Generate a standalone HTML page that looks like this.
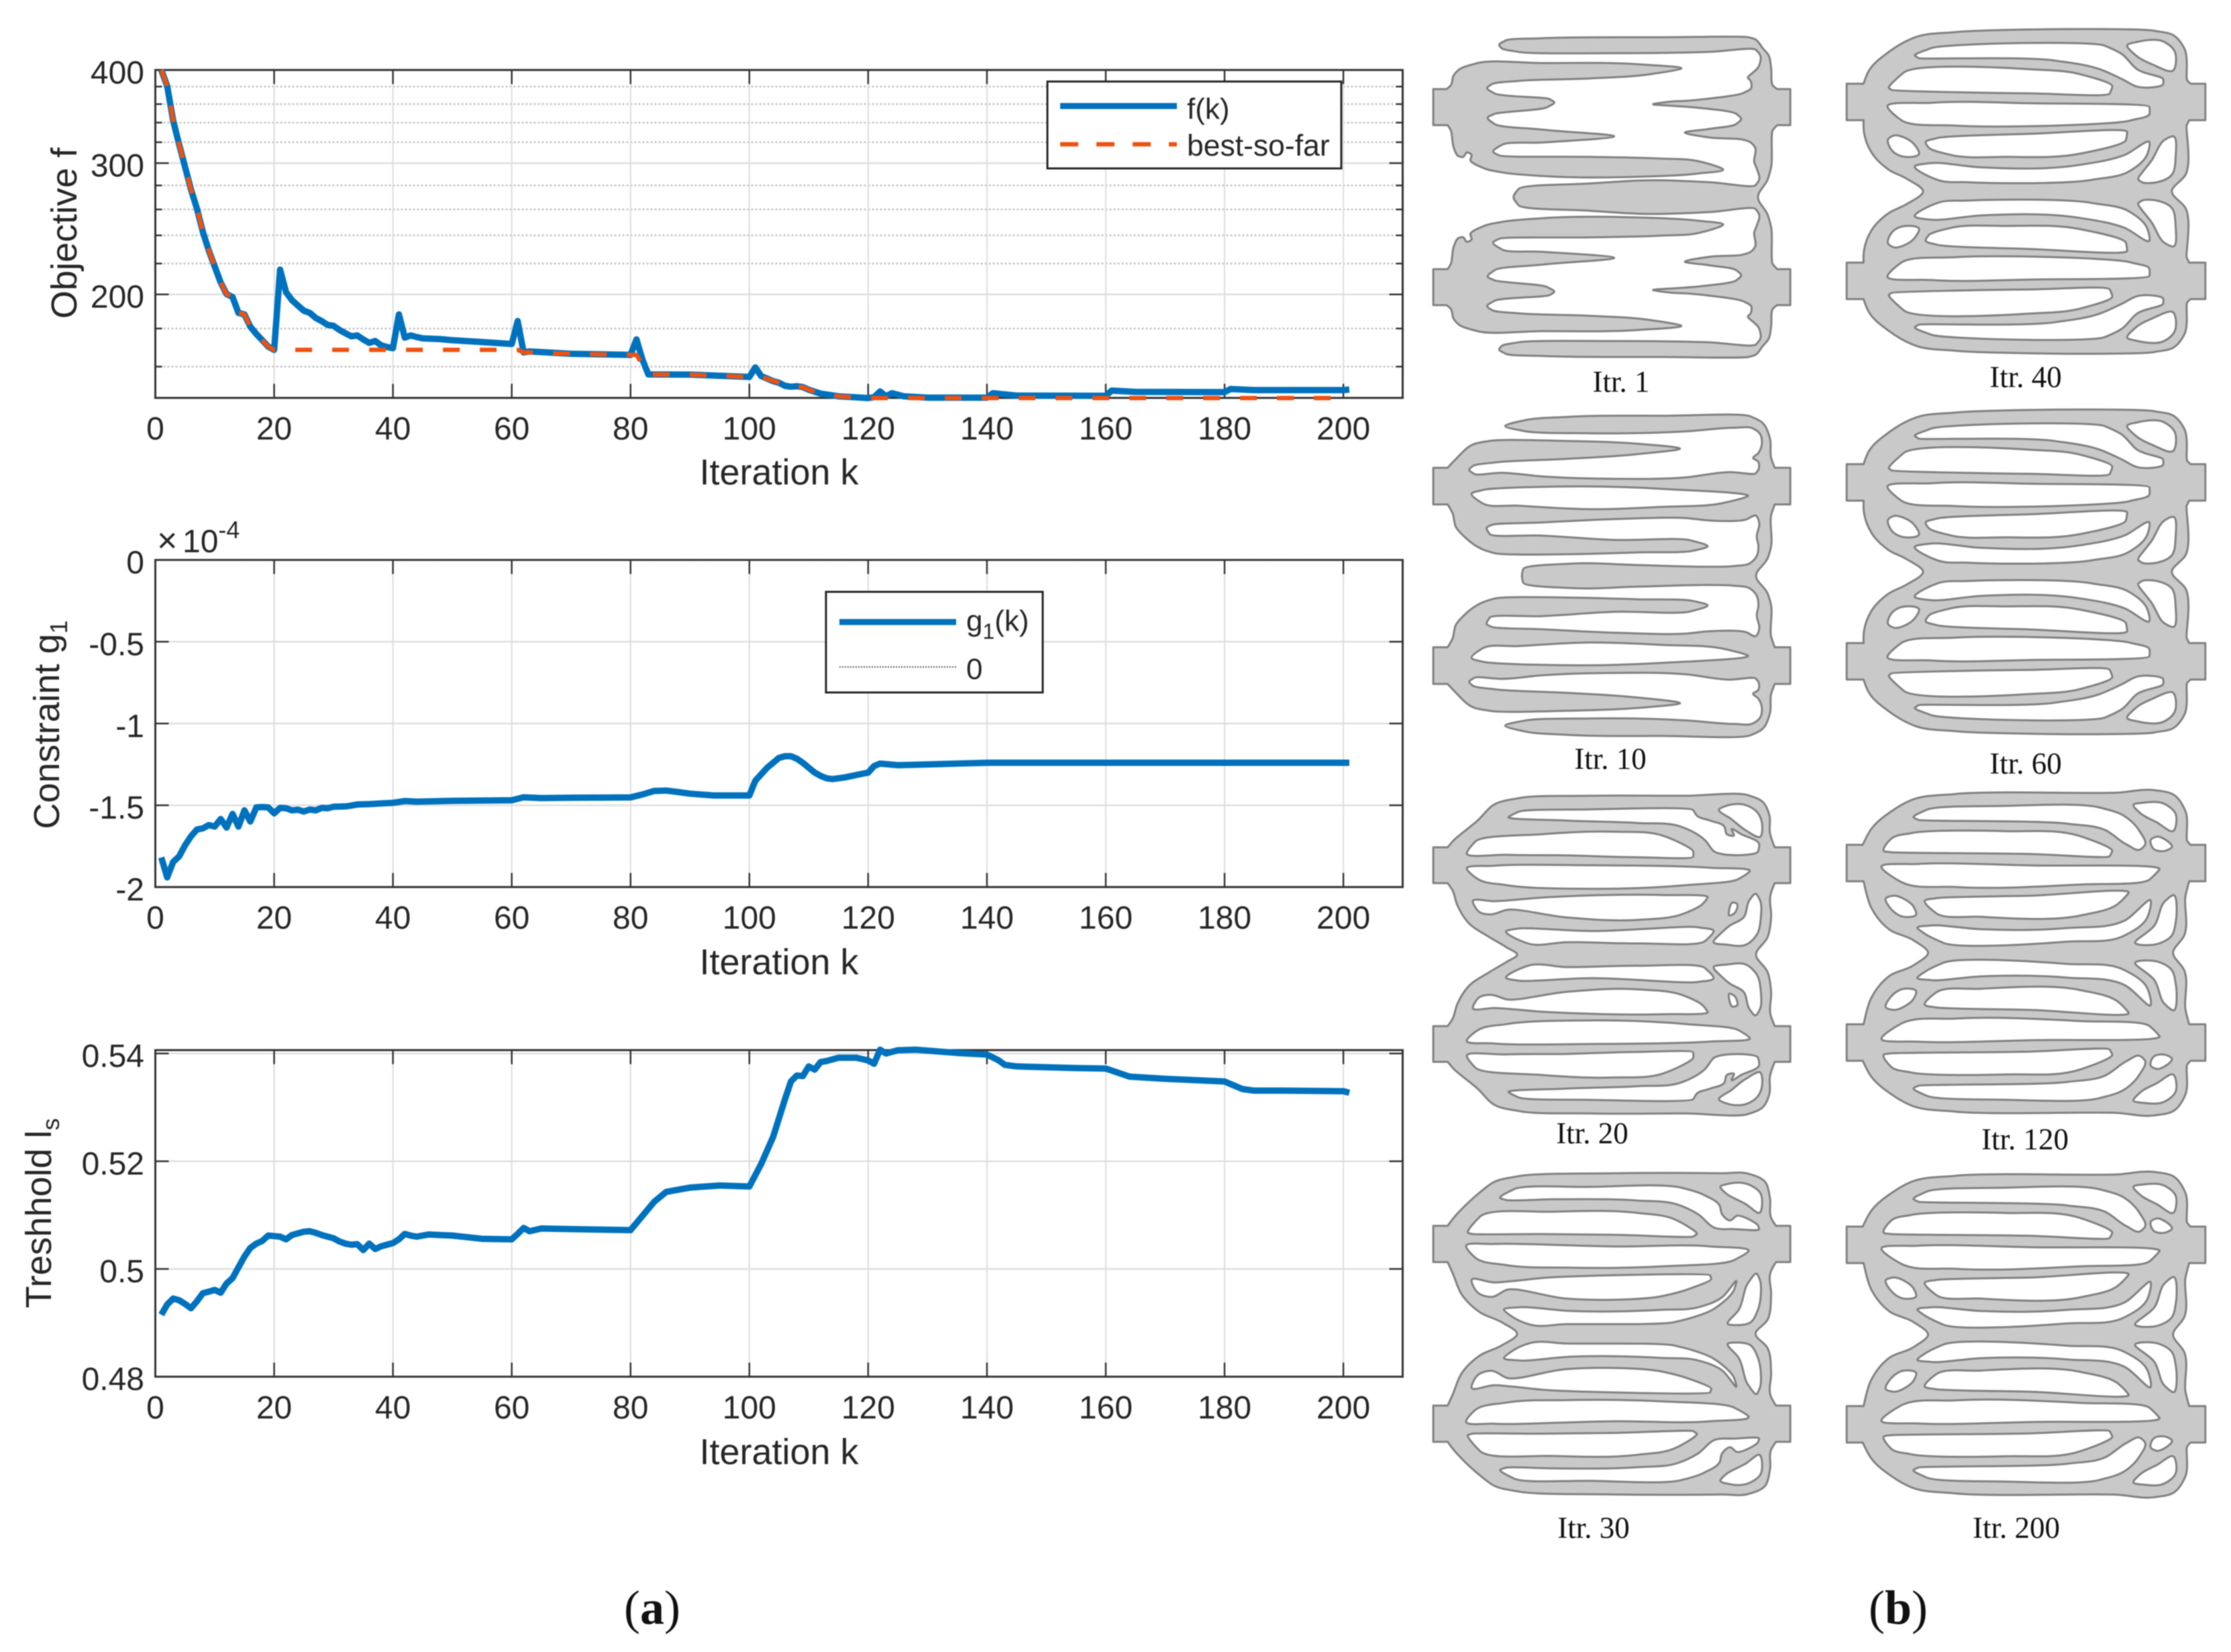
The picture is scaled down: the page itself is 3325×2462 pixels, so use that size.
<!DOCTYPE html>
<html lang="en">
<head>
<meta charset="utf-8">
<title>Topology optimisation convergence</title>
<style>
html,body{margin:0;padding:0;background:#fff;}
svg{display:block;filter:blur(0.7px);}
text{font-family:"Liberation Sans",sans-serif;fill:#262626;}
.serif{font-family:"Liberation Serif",serif;fill:#111;}
</style>
</head>
<body>
<svg id="fig" xmlns="http://www.w3.org/2000/svg" width="3325" height="2462" viewBox="0 0 3325 2462">
  <rect width="3325" height="2462" fill="#fff"/>
  <g id="plots"></g>
  <g id="panels"></g>

  <text x="114" y="347.5" font-size="54" text-anchor="middle" transform="rotate(-90 114 347.5)">Objective f</text>
  <text x="88" y="1080" font-size="54" text-anchor="middle" transform="rotate(-90 88 1080)">Constraint g<tspan font-size="36" dy="12">1</tspan></text>
  <text x="76" y="1808" font-size="54" text-anchor="middle" transform="rotate(-90 76 1808)">Treshhold l<tspan font-size="36" dy="12">s</tspan></text>

  <text x="1161" y="722" font-size="54" text-anchor="middle">Iteration k</text>
  <text x="1161" y="1452" font-size="54" text-anchor="middle">Iteration k</text>
  <text x="1161" y="2182" font-size="54" text-anchor="middle">Iteration k</text>

  <text x="234" y="823" font-size="52">×<tspan x="272" font-size="48">10</tspan><tspan font-size="36" dy="-21">-4</tspan></text>

  <text class="serif" x="2416" y="584" font-size="45" text-anchor="middle">Itr. 1</text>
  <text class="serif" x="2400" y="1146" font-size="45" text-anchor="middle">Itr. 10</text>
  <text class="serif" x="2373" y="1704" font-size="45" text-anchor="middle">Itr. 20</text>
  <text class="serif" x="2375" y="2292" font-size="45" text-anchor="middle">Itr. 30</text>
  <text class="serif" x="3019" y="577" font-size="45" text-anchor="middle">Itr. 40</text>
  <text class="serif" x="3019" y="1153" font-size="45" text-anchor="middle">Itr. 60</text>
  <text class="serif" x="3018" y="1713" font-size="45" text-anchor="middle">Itr. 120</text>
  <text class="serif" x="3005" y="2292" font-size="45" text-anchor="middle">Itr. 200</text>

  <text class="serif" x="972" y="2420" font-size="72" text-anchor="middle">(<tspan font-weight="bold">a</tspan>)</text>
  <text class="serif" x="2829" y="2420" font-size="72" text-anchor="middle">(<tspan font-weight="bold">b</tspan>)</text>
</svg>

<script>
/* ---------- chart data ---------- */
const xTicks = [0,20,40,60,80,100,120,140,160,180,200];

const objTicks = [200,300,400];
const objMinorTicks = [160,180,220,240,260,280,320,340,360,380];
const objIter = [1,2,3,4,5,6,7,8,9,10,11,12,13,14,15,16,17,18,19,20,21,22,23,24,25,26,27,28,29,30,31,32,33,34,35,36,37,38,39,40,41,42,43,44,45,48,50,55,60,61,62,63,70,80,81,82,83,90,100,101,102,103,104,105,106,107,108,109,110,112,115,120,121,122,123,124,126,130,140,141,145,160,161,165,180,181,185,200,201];
const objValues = [400,380.6,342,318,296.5,276.6,260.7,242.7,229,218,207.5,200.2,198.4,188.9,188,181,177,173.6,170.2,168.5,215.9,201.4,196.5,193.2,190.2,188.9,186,184.2,182,181.5,179.2,177.4,175.7,176.2,174,172.2,173.2,170.9,170,169.4,188,175,176.2,175.3,174.6,174.2,173.6,172.6,171.6,184.2,167.2,167.7,166.5,165.9,174,163.6,156.2,156.1,155,159.6,155.4,154.2,153,152.2,150.8,150.4,150.6,150.2,149,147.2,146,145.2,145.6,148.2,146,147.4,146,145.4,145.4,147.4,146.3,146.2,148.6,148,147.9,149.3,148.8,148.8,149.1];

const bestIter = [1,2,3,4,5,6,7,8,9,10,11,12,13,14,15,16,17,18,19,20,61,62,63,70,80,81,83,90,100,102,105,107,109,110,112,115,120,201];
const bestValues = [400,380.6,342,318,296.5,276.6,260.7,242.7,229,218,207.5,200.2,198.4,188.9,188,181,177,173.6,170.2,168.5,168.5,167.2,167.2,166.5,165.9,165.9,156.2,156.1,155,155,152.2,150.2,150.2,149,147.2,146,145.2,145.2];

const conTicks = [0,-0.5,-1,-1.5,-2];
const conTickLabels = ['0','-0.5','-1','-1.5','-2'];
const conIter = [1,2,3,4,5,6,7,8,9,10,11,12,13,14,15,16,17,18,19,20,21,22,23,24,25,26,27,28,29,30,32,33,34,36,38,40,42,44,50,60,62,65,70,80,82,84,86,88,90,94,100,101,102,103,104,105,106,107,108,109,110,111,112,113,114,116,120,121,122,125,130,140,150,201];
const conValues = [-1.819,-1.941,-1.846,-1.813,-1.745,-1.69,-1.648,-1.641,-1.621,-1.63,-1.584,-1.636,-1.553,-1.63,-1.531,-1.599,-1.513,-1.511,-1.513,-1.549,-1.516,-1.518,-1.531,-1.527,-1.538,-1.526,-1.531,-1.516,-1.518,-1.509,-1.507,-1.502,-1.495,-1.493,-1.489,-1.485,-1.474,-1.478,-1.473,-1.469,-1.451,-1.456,-1.454,-1.452,-1.434,-1.412,-1.41,-1.419,-1.429,-1.44,-1.44,-1.35,-1.31,-1.27,-1.24,-1.21,-1.2,-1.2,-1.215,-1.24,-1.27,-1.3,-1.32,-1.335,-1.34,-1.33,-1.3,-1.26,-1.245,-1.255,-1.25,-1.24,-1.24,-1.24];
const zeroIter = [0,210];
const zeroValues = [0,0];

const thrTicks = [0.48,0.5,0.52,0.54];
const thrTickLabels = ['0.48','0.5','0.52','0.54'];
const thrIter = [1,2,3,4,5,6,7,8,9,10,11,12,13,14,15,16,17,18,19,20,21,22,23,24,25,26,27,28,30,31,32,33,34,35,36,37,38,39,40,41,42,43,44,46,48,50,55,60,61,62,63,65,70,80,84,86,88,90,95,100,102,104,106,107,108,109,110,111,112,113,115,118,120,121,122,123,125,128,135,140,142,143,145,155,160,164,170,180,183,185,190,200,201];
const thrValues = [0.4915,0.4934,0.4945,0.4942,0.4935,0.4927,0.494,0.4955,0.4958,0.4961,0.4956,0.4973,0.4983,0.5003,0.5023,0.5039,0.5047,0.5052,0.5062,0.5061,0.506,0.5055,0.5063,0.5066,0.5069,0.507,0.5067,0.5063,0.5057,0.5051,0.5047,0.5045,0.5046,0.5035,0.5047,0.5037,0.5042,0.5045,0.5048,0.5055,0.5065,0.5062,0.506,0.5064,0.5063,0.5062,0.5056,0.5055,0.5065,0.5076,0.507,0.5075,0.5074,0.5072,0.5125,0.5143,0.5147,0.5151,0.5155,0.5153,0.5195,0.5245,0.5315,0.5348,0.5359,0.5358,0.5376,0.537,0.5384,0.5386,0.5392,0.5392,0.5387,0.5381,0.5407,0.54,0.5406,0.5407,0.5401,0.5398,0.5387,0.5379,0.5376,0.5373,0.5372,0.5357,0.5353,0.5348,0.5334,0.5331,0.5331,0.533,0.5327];

/* ---------- axis functions ---------- */
const xLeft = 231.5, xRight = 2090.5, xPerUnit = 8.853;
const xScale = k => xLeft + k * xPerUnit;
const objTop = 104.3, objBottom = 593;
const yObj = v => objTop + Math.log(400 / v) * 482.5;
const conTop = 834.5, conBottom = 1322;
const yCon = v => conTop + (-v) / 2 * (conBottom - conTop);
const thrTop = 1565, thrBottom = 2051.7;
const yThr = v => thrBottom - (v - 0.48) / 0.06 * 481.7;

const NS = 'http://www.w3.org/2000/svg';
const plots = document.getElementById('plots');

function make(tag, attrs, parent) {
  const node = document.createElementNS(NS, tag);
  for (const key in attrs) node.setAttribute(key, attrs[key]);
  parent.appendChild(node);
  return node;
}

function drawAxes(prefix, top, bottom, yFn, majors, labels, minors, xLabelY) {
  const axis = make('g', {}, plots);
  
  

  minors.forEach(v => {
    const y = yFn(v);
    const grid = make('line', {x1: xLeft, x2: xRight, y1: y, y2: y, stroke: '#c2c2c2', 'stroke-width': 2.5, 'stroke-dasharray': '3 3'}, axis);
    
    
    const tl = make('line', {x1: xLeft, x2: xLeft + 10, y1: y, y2: y, stroke: '#333', 'stroke-width': 2.5}, axis);
    
    
    const tr = make('line', {x1: xRight - 10, x2: xRight, y1: y, y2: y, stroke: '#333', 'stroke-width': 2.5}, axis);
    
    
  });

  majors.forEach((v, i) => {
    const y = yFn(v);
    const grid = make('line', {x1: xLeft, x2: xRight, y1: y, y2: y, stroke: '#dfdfdf', 'stroke-width': 2.5}, axis);
    
    
    const tl = make('line', {x1: xLeft, x2: xLeft + 20, y1: y, y2: y, stroke: '#333', 'stroke-width': 2.5}, axis);
    
    
    const tr = make('line', {x1: xRight - 20, x2: xRight, y1: y, y2: y, stroke: '#333', 'stroke-width': 2.5}, axis);
    
    
    const label = make('text', {x: 215, y: y + 20, 'font-size': 48, 'text-anchor': 'end'}, axis);
    label.textContent = labels[i];
    
    
  });

  xTicks.forEach(t => {
    const x = xScale(t);
    if (t > 0) {
      const grid = make('line', {x1: x, x2: x, y1: top, y2: bottom, stroke: '#dcdcdc', 'stroke-width': 2}, axis);
      
      
      const tt = make('line', {x1: x, x2: x, y1: top, y2: top + 21, stroke: '#333', 'stroke-width': 2.5}, axis);
      
      
      const tb = make('line', {x1: x, x2: x, y1: bottom - 21, y2: bottom, stroke: '#333', 'stroke-width': 2.5}, axis);
      
      
    }
    const label = make('text', {x: x, y: xLabelY, 'font-size': 48, 'text-anchor': 'middle'}, axis);
    label.textContent = String(t);
    
    
  });

  const box = make('rect', {x: xLeft, y: top, width: xRight - xLeft, height: bottom - top, fill: 'none', stroke: '#333', 'stroke-width': 3}, axis);
  
  
}

function drawSeries(name, iters, values, yFn, color, width, dash) {
  const pts = iters.map((k, i) => xScale(k).toFixed(1) + ',' + yFn(values[i]).toFixed(1)).join(' ');
  const attrs = {points: pts, fill: 'none', stroke: color, 'stroke-width': width, 'stroke-linejoin': 'round'};
  if (dash) attrs['stroke-dasharray'] = dash;
  const line = make('polyline', attrs, plots);
  
  
}

function drawLegendBox(name, x, y, w, h) {
  const rect = make('rect', {x: x, y: y, width: w, height: h, fill: '#fff', stroke: '#262626', 'stroke-width': 3}, plots);
  
  
}

drawAxes('objective', objTop, objBottom, yObj, objTicks, objTicks.map(String), objMinorTicks, 655);
drawAxes('constraint', conTop, conBottom, yCon, conTicks, conTickLabels, [], 1384);
drawAxes('threshold', thrTop, thrBottom, yThr, thrTicks, thrTickLabels, [], 2114);

const BLUE = '#0072BD', ORANGE = '#EE5212';
drawSeries('objective-line', objIter, objValues, yObj, BLUE, 9.5);
drawSeries('best-so-far-line', bestIter, bestValues, yObj, ORANGE, 6.5, '25 30');
drawSeries('constraint-line', conIter, conValues, yCon, BLUE, 9.5);
drawSeries('constraint-zero-line', zeroIter, zeroValues, yCon, '#444', 2, '2 2');
drawSeries('threshold-line', thrIter, thrValues, yThr, BLUE, 9.5);

/* legend 1 */
drawLegendBox('objective-legend', 1561, 121.5, 438, 129.5);
const l1a = make('line', {x1: 1580, x2: 1754, y1: 158, y2: 158, stroke: BLUE, 'stroke-width': 9}, plots);


const l1b = make('line', {x1: 1580, x2: 1754, y1: 215, y2: 215, stroke: ORANGE, 'stroke-width': 6.5, 'stroke-dasharray': '27 27'}, plots);


const l1c = make('text', {x: 1769, y: 177, 'font-size': 44}, plots);
l1c.textContent = 'f(k)';


const l1d = make('text', {x: 1769, y: 232, 'font-size': 44.5}, plots);
l1d.textContent = 'best-so-far';



/* legend 2 */
drawLegendBox('constraint-legend', 1231, 882, 323, 150);
const l2a = make('line', {x1: 1251, x2: 1425, y1: 927, y2: 927, stroke: BLUE, 'stroke-width': 9}, plots);


const l2b = make('line', {x1: 1251, x2: 1425, y1: 994, y2: 994, stroke: '#555', 'stroke-width': 2, 'stroke-dasharray': '2 2'}, plots);


const l2c = make('text', {x: 1440, y: 940, 'font-size': 44}, plots);
l2c.textContent = 'g';
const l2sub = make('tspan', {'font-size': 32, dy: 12}, l2c);
l2sub.textContent = '1';
const l2rest = make('tspan', {dy: -12}, l2c);
l2rest.textContent = '(k)';


const l2d = make('text', {x: 1440, y: 1012, 'font-size': 44}, plots);
l2d.textContent = '0';



/* ---------- topology panels (traced outlines, upper half mirrored) ---------- */
const itr40Shape = {
  mid: 717,
  half: '368,717 300,665 230,630 160,560 130,480 128,430! 60,430! 60,283! 128,283! 150,230 230,155 340,95 500,75 1300,70 1380,90 1420,140 1432,270 1445,283! 1505,283! 1505,430! 1440,430! 1430,450 1425,650 1370,717',
  holes: [
    '1190,128 1230,115 1340,115 1380,150 1375,230 1290,205 1220,165',
    '335,170 400,140 1100,130 1170,165 1230,225 1335,265 1335,285 1230,295 1170,265 1080,225 900,190 350,180',
    '230,300 290,238 800,225 1000,245 1130,295 1120,322 800,322 240,308',
    '225,378 400,360 800,362 1280,378 1280,405 1200,432 500,452 280,430',
    '378,520 420,503 800,485 1190,478 1185,510 1000,565 700,578 480,570 390,540',
    '228,505 250,492 330,525 352,565 280,575 245,555',
    '1235,670 1290,590 1340,510 1375,495 1385,580 1370,650 1310,680 1250,680',
    '335,615 400,603 600,620 1000,610 1180,570 1280,520 1270,570 1200,635 1050,670 550,680 430,672'
  ]
};
const itr200Shape = {
  mid: 700,
  half: '388,700 330,650 230,605 160,520 130,420 128,412! 60,412! 60,265! 125,265! 160,200 240,130 320,85 500,60 1150,55 1300,45 1380,65 1425,130 1432,250 1445,265! 1505,265! 1505,412! 1440,412! 1425,470 1420,630 1375,700',
  holes: [
    '1215,105 1260,95 1340,100 1385,140 1375,210 1310,175 1240,135',
    '330,155 380,125 700,108 1080,115 1180,150 1240,210 1262,265 1240,285 1190,265 1100,205 950,180 350,165',
    '1285,245 1310,232 1370,275 1340,290 1295,280',
    '210,290 240,240 320,218 700,210 1000,230 1130,290 1120,310 800,302 240,295',
    '200,355 350,342 800,348 1320,365 1280,405 1000,425 500,435 280,415',
    '375,490 420,480 800,470 1195,460 1150,505 1000,550 600,555 420,540',
    '218,480 250,470 330,515 340,545 290,555 240,525',
    '1222,660 1300,590 1340,495 1375,468 1385,580 1370,630 1320,662',
    '345,600 400,590 600,605 950,600 1180,570 1285,490 1270,560 1180,630 950,655 450,660 370,620'
  ]
};
const panelList = [
  {name: 'topology-itr-1', ox: 2120, oy: 20, sx: 2.8, sy: 2.703, mid: 740,
   half: '380,740 400,708 700,685 950,672 1200,680 1390,692 1405,670 1395,625 1385,600 1388,540 1370,520 1335,508 1200,500 1095,480 1200,465 1310,445 1330,425 1310,405 1150,380 1040,372 962,366 1040,355 1100,352 1340,320 1372,300 1368,270 1358,260 1405,210 1410,170 1392,147 1200,155 800,160 400,155 330,140 320,128 345,110 500,100 1000,96 1360,96 1390,105 1420,140 1445,170 1455,220 1462,290 1480,305! 1535,305! 1535,450! 1480,450! 1462,470 1455,620 1440,670 1400,740',
   solids: ['45,305! 100,305! 118,290 130,250 150,228 230,200 500,200 900,205 1080,222 950,245 700,262 400,272 290,285 270,300 300,322 530,345 550,358 520,378 300,405 272,420 300,445 500,468 800,495 500,520 330,530 295,558 320,572 700,578 1000,585 1150,595 1255,630 1150,645 900,658 500,655 330,640 260,625 200,590 205,570 185,560 170,578 150,575 132,545 118,470 105,450! 45,450!'],
   holes: []},
  {name: 'topology-itr-10', ox: 2120, oy: 600, sx: 2.8, sy: 2.8, mid: 723,
   half: '415,723 420,695 620,672 900,678 1200,685 1300,682 1370,668 1395,640 1402,600 1395,560 1405,500 1392,472 1350,488 1200,492 1100,482 800,486 500,500 290,510 268,522 280,548 500,555 800,573 1120,575 1190,600 1130,618 900,625 650,632 300,628 250,612 170,555 140,520 125,460 105,425! 45,425! 45,272! 105,272! 135,240 210,175 280,160 600,160 900,172 1075,192 900,215 600,235 300,250 210,265 195,280 215,297 330,293 500,308 800,318 1100,312 1280,290 1390,295 1402,280 1400,245 1380,232 1402,210 1415,180 1408,130 1380,108 1300,105 1100,120 700,128 420,118 345,98 420,75 600,60 1000,55 1370,58 1420,85 1450,150 1455,230 1470,272! 1535,272! 1535,425! 1470,425! 1455,470 1455,600 1440,650 1392,723',
   holes: ['205,380 250,365 600,350 1000,360 1355,392 1250,420 1000,435 700,445 400,430 250,420']},
  {name: 'topology-itr-20', ox: 2120, oy: 1160, sx: 2.8, sy: 2.703, mid: 710,
   half: '395,710 350,680 280,640 190,580 145,510 125,450 105,422! 45,422! 45,278! 105,278! 130,250 230,170 300,105 400,80 700,70 1100,70 1360,68 1420,95 1448,150 1450,220 1470,278! 1535,278! 1535,422! 1470,422! 1452,470 1455,560 1440,640 1392,710',
   holes: [
     '1238,125 1270,110 1350,108 1400,140 1418,190 1410,235 1350,210 1290,165',
     '360,155 400,135 700,125 1130,128 1145,150 1200,170 1260,195 1270,225 1300,230 1290,205 1330,225 1405,265 1400,295 1215,293 1180,250 1080,195 900,180 600,170',
     '185,300 220,255 500,225 800,215 1000,230 1130,295 1130,315 900,318 600,310 350,308',
     '185,365 300,352 700,350 1200,360 1365,375 1320,405 1100,430 700,445 350,430 230,405',
     '210,495 300,495 500,480 1000,470 1190,480 1170,505 1090,545 900,570 600,560 350,530 285,548 240,540',
     '1280,530 1295,500 1312,505 1300,545 1280,552',
     '1215,660 1250,620 1280,595 1340,560 1365,490 1390,465 1408,490 1412,560 1395,630 1350,670 1270,670',
     '350,615 400,605 700,615 1150,600 1215,615 1180,655 900,665 600,660 440,665'
   ]},
  {name: 'topology-itr-30', ox: 2120, oy: 1730, sx: 2.8, sy: 2.703, mid: 697,
   half: '395,697 330,650 240,610 165,540 125,450 105,408! 45,408! 45,262! 105,262! 130,230 230,135 300,85 400,62 800,50 1250,50 1360,52 1430,85 1450,150 1455,230 1475,262! 1535,262! 1535,408! 1475,408! 1452,450 1455,540 1440,640 1390,697',
   holes: [
     '1243,105 1280,92 1360,95 1410,130 1405,210 1350,175 1265,130',
     '325,150 380,115 700,105 1080,108 1180,140 1240,180 1250,215 1285,240 1310,222 1400,260 1405,275 1300,275 1220,270 1150,215 1060,175 900,160 550,155 350,158',
     '190,290 240,225 550,205 900,210 1050,235 1145,295 1130,305 800,298 500,295 210,295',
     '182,345 300,335 800,345 1200,345 1360,365 1300,400 1000,425 600,430 350,420 220,390',
     '205,480 300,490 370,485 500,472 1200,460 1205,475 1100,520 1000,545 600,555 350,520 290,548 230,530',
     '1275,658 1320,600 1360,490 1395,455 1408,480 1400,600 1370,650 1310,662',
     '340,600 400,590 620,605 1000,600 1150,590 1250,550 1310,485 1300,520 1210,600 1130,630 1050,650 600,658 450,660 370,625'
   ]},
  {name: 'topology-itr-40', ox: 2730, oy: 20, sx: 2.703, sy: 2.703, mid: itr40Shape.mid, half: itr40Shape.half, holes: itr40Shape.holes},
  {name: 'topology-itr-60', ox: 2730, oy: 587, sx: 2.703, sy: 2.703, mid: itr40Shape.mid, half: itr40Shape.half, holes: itr40Shape.holes},
  {name: 'topology-itr-120', ox: 2730, oy: 1161, sx: 2.703, sy: 2.703, mid: itr200Shape.mid, half: itr200Shape.half, holes: itr200Shape.holes},
  {name: 'topology-itr-200', ox: 2730, oy: 1730, sx: 2.703, sy: 2.703, mid: itr200Shape.mid, half: itr200Shape.half, holes: itr200Shape.holes}
];

function parsePoints(str) {
  return str.trim().split(/\s+/).map(tok => {
    const sharp = tok.endsWith('!');
    const parts = tok.replace('!', '').split(',').map(Number);
    return {x: parts[0], y: parts[1], sharp: sharp};
  });
}
function mirrored(pts, mid) {
  return pts.map(p => ({x: p.x, y: 2 * mid - p.y, sharp: p.sharp}));
}
function closedSmoothPath(pts, panel) {
  const mapped = pts.map(p => ({x: panel.ox + p.x / panel.sx, y: panel.oy + p.y / panel.sy, sharp: p.sharp}));
  const n = mapped.length;
  const chord = (a, b) => Math.hypot(b.x - a.x, b.y - a.y) || 1;
  /* tangents weighted towards the shorter neighbouring chord */
  const tangents = mapped.map((p, i) => {
    if (p.sharp) return {x: 0, y: 0};
    const a = mapped[(i - 1 + n) % n], b = mapped[(i + 1) % n];
    const d1 = chord(a, p), d2 = chord(p, b);
    return {
      x: (d2 * (p.x - a.x) / d1 + d1 * (b.x - p.x) / d2) / (d1 + d2),
      y: (d2 * (p.y - a.y) / d1 + d1 * (b.y - p.y) / d2) / (d1 + d2)
    };
  });
  const fmt = v => v.toFixed(1);
  let d = 'M' + fmt(mapped[0].x) + ' ' + fmt(mapped[0].y);
  for (let i = 0; i < n; i++) {
    const j = (i + 1) % n;
    const p1 = mapped[i], p2 = mapped[j];
    const span = chord(p1, p2);
    /* control arm limited by the neighbouring chord so long spans stay flat */
    const arm1 = Math.min(span / 3, 0.7 * chord(mapped[(i - 1 + n) % n], p1));
    const arm2 = Math.min(span / 3, 0.7 * chord(p2, mapped[(j + 1) % n]));
    d += 'C' + fmt(p1.x + tangents[i].x * arm1) + ' ' + fmt(p1.y + tangents[i].y * arm1) + ' ' +
         fmt(p2.x - tangents[j].x * arm2) + ' ' + fmt(p2.y - tangents[j].y * arm2) + ' ' + fmt(p2.x) + ' ' + fmt(p2.y);
  }
  return d + 'Z';
}

const panelsGroup = document.getElementById('panels');
panelList.forEach(panel => {
  const group = make('g', {stroke: '#808080', 'stroke-width': 3, 'stroke-linejoin': 'round'}, panelsGroup);
  
  

  const halfPts = parsePoints(panel.half);
  const lower = mirrored(halfPts.slice(1, -1), panel.mid).reverse();
  const outline = make('path', {d: closedSmoothPath(halfPts.concat(lower), panel), fill: '#c9c9c9'}, group);
  
  

  (panel.solids || []).forEach(str => {
    const pts = parsePoints(str);
    [pts, mirrored(pts, panel.mid)].forEach(set => {
      const solid = make('path', {d: closedSmoothPath(set, panel), fill: '#c9c9c9'}, group);
      
      
    });
  });

  panel.holes.forEach(str => {
    const pts = parsePoints(str);
    [pts, mirrored(pts, panel.mid)].forEach(set => {
      const hole = make('path', {d: closedSmoothPath(set, panel), fill: '#fff'}, group);
      
      
    });
  });
});
</script>
</body>
</html>
